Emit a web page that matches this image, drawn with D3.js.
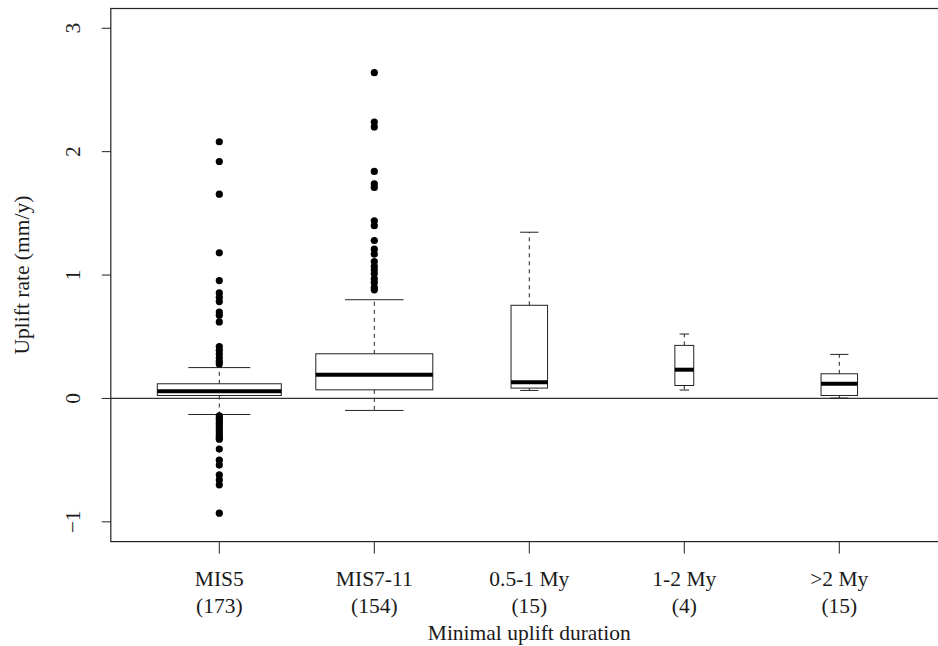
<!DOCTYPE html>
<html><head><meta charset="utf-8">
<script src="https://cdn.jsdelivr.net/npm/d3@7"></script>
<style>body{margin:0;background:#fff}svg{display:block}</style>
</head><body>
<svg id="c" width="938" height="646" font-family="'Liberation Serif', 'Times New Roman', Times, 'DejaVu Serif', serif"></svg>
<script>
const categories = ["MIS5", "MIS7-11", "0.5-1 My", "1-2 My", ">2 My"];
const counts = [173, 154, 15, 4, 15];
const lowerWhisker = [-0.13, -0.097, 0.065, 0.068, 0.003];
const q1 = [0.024, 0.07, 0.084, 0.105, 0.024];
const medians = [0.059, 0.193, 0.132, 0.233, 0.119];
const q3 = [0.119, 0.362, 0.755, 0.43, 0.2];
const upperWhisker = [0.25, 0.80, 1.347, 0.522, 0.357];
const outliersMIS5 = [2.08, 1.92, 1.655, 1.18, 0.955, 0.855, 0.82, 0.785, 0.70, 0.675, 0.62, 0.42, 0.39, 0.36, 0.33, 0.30, 0.28,
  -0.14, -0.16, -0.18, -0.20, -0.22, -0.24, -0.26, -0.28, -0.30, -0.32, -0.33, -0.41, -0.50, -0.54, -0.62, -0.66, -0.70, -0.93];
const outliersMIS711 = [2.64, 2.24, 2.20, 1.84, 1.74, 1.71, 1.44, 1.40, 1.28, 1.21, 1.17, 1.11, 1.07, 1.04, 1.01, 0.97, 0.94, 0.90, 0.88];
const outliers = [outliersMIS5, outliersMIS711, [], [], []];
const yTicks = [-1, 0, 1, 2, 3];
const yLabel = "Uplift rate (mm/y)";
const xLabel = "Minimal uplift duration";

const svg = d3.select("#c");
const x = d3.scaleLinear().domain([0.3, 5.7]).range([110.8, 947.8]);
const y = d3.scaleLinear().domain([-1.16, 3.16]).range([541.6, 8.5]);
const unit = x(1) - x(0);
const maxN = d3.max(counts);
const stroke = "#222";
const txt = "#1a1a1a";
const fs = 21.5;

svg.append("rect").attr("x", x(0.3)).attr("y", y(3.16)).attr("width", x(5.7) - x(0.3)).attr("height", y(-1.16) - y(3.16))
  .attr("fill", "none").attr("stroke", stroke).attr("stroke-width", 1.2);

svg.append("line").attr("x1", x(0.3)).attr("x2", x(5.7)).attr("y1", y(0)).attr("y2", y(0))
  .attr("stroke", "#333").attr("stroke-width", 1.2);

const ya = svg.append("g");
yTicks.forEach(t => {
  ya.append("line").attr("x1", x(0.3)).attr("x2", x(0.3) - 9).attr("y1", y(t)).attr("y2", y(t)).attr("stroke", stroke);
  ya.append("text").attr("transform", `translate(${x(0.3) - 31},${y(t)}) rotate(-90)`)
    .attr("text-anchor", "middle").attr("font-size", fs).attr("fill", txt).text(t < 0 ? "\u2212" + Math.abs(t) : t);
});
svg.append("text").attr("transform", `translate(29,${(y(3.16) + y(-1.16)) / 2}) rotate(-90)`)
  .attr("text-anchor", "middle").attr("font-size", fs).attr("fill", txt).text(yLabel);

categories.forEach((c, i) => {
  const cx = x(i + 1);
  svg.append("line").attr("x1", cx).attr("x2", cx).attr("y1", y(-1.16)).attr("y2", y(-1.16) + 12).attr("stroke", stroke);
  svg.append("text").attr("x", cx).attr("y", 586).attr("text-anchor", "middle").attr("font-size", fs).attr("fill", txt).text(c);
  svg.append("text").attr("x", cx).attr("y", 613).attr("text-anchor", "middle").attr("font-size", fs).attr("fill", txt).text("(" + counts[i] + ")");
});
svg.append("text").attr("x", x(3)).attr("y", 640).attr("text-anchor", "middle").attr("font-size", fs).attr("fill", txt).text(xLabel);

categories.forEach((c, i) => {
  const cx = x(i + 1);
  const hw = 0.4 * Math.sqrt(counts[i] / maxN) * unit;
  const g = svg.append("g");
  g.append("line").attr("x1", cx).attr("x2", cx).attr("y1", y(q3[i])).attr("y2", y(upperWhisker[i]))
    .attr("stroke", stroke).attr("stroke-dasharray", "4,4");
  g.append("line").attr("x1", cx).attr("x2", cx).attr("y1", y(q1[i])).attr("y2", y(lowerWhisker[i]))
    .attr("stroke", stroke).attr("stroke-dasharray", "4,4");
  [upperWhisker[i], lowerWhisker[i]].forEach(v => {
    g.append("line").attr("x1", cx - hw / 2).attr("x2", cx + hw / 2).attr("y1", y(v)).attr("y2", y(v)).attr("stroke", stroke);
  });
  g.append("rect").attr("x", cx - hw).attr("width", 2 * hw).attr("y", y(q3[i])).attr("height", y(q1[i]) - y(q3[i]))
    .attr("fill", "#fff").attr("stroke", stroke);
  g.append("line").attr("x1", cx - hw).attr("x2", cx + hw).attr("y1", y(medians[i])).attr("y2", y(medians[i]))
    .attr("stroke", "#000").attr("stroke-width", 4);
  g.selectAll("circle").data(outliers[i]).enter().append("circle")
    .attr("cx", cx).attr("cy", d => y(d)).attr("r", 3.6).attr("fill", "#000");
});
</script>
</body></html>
